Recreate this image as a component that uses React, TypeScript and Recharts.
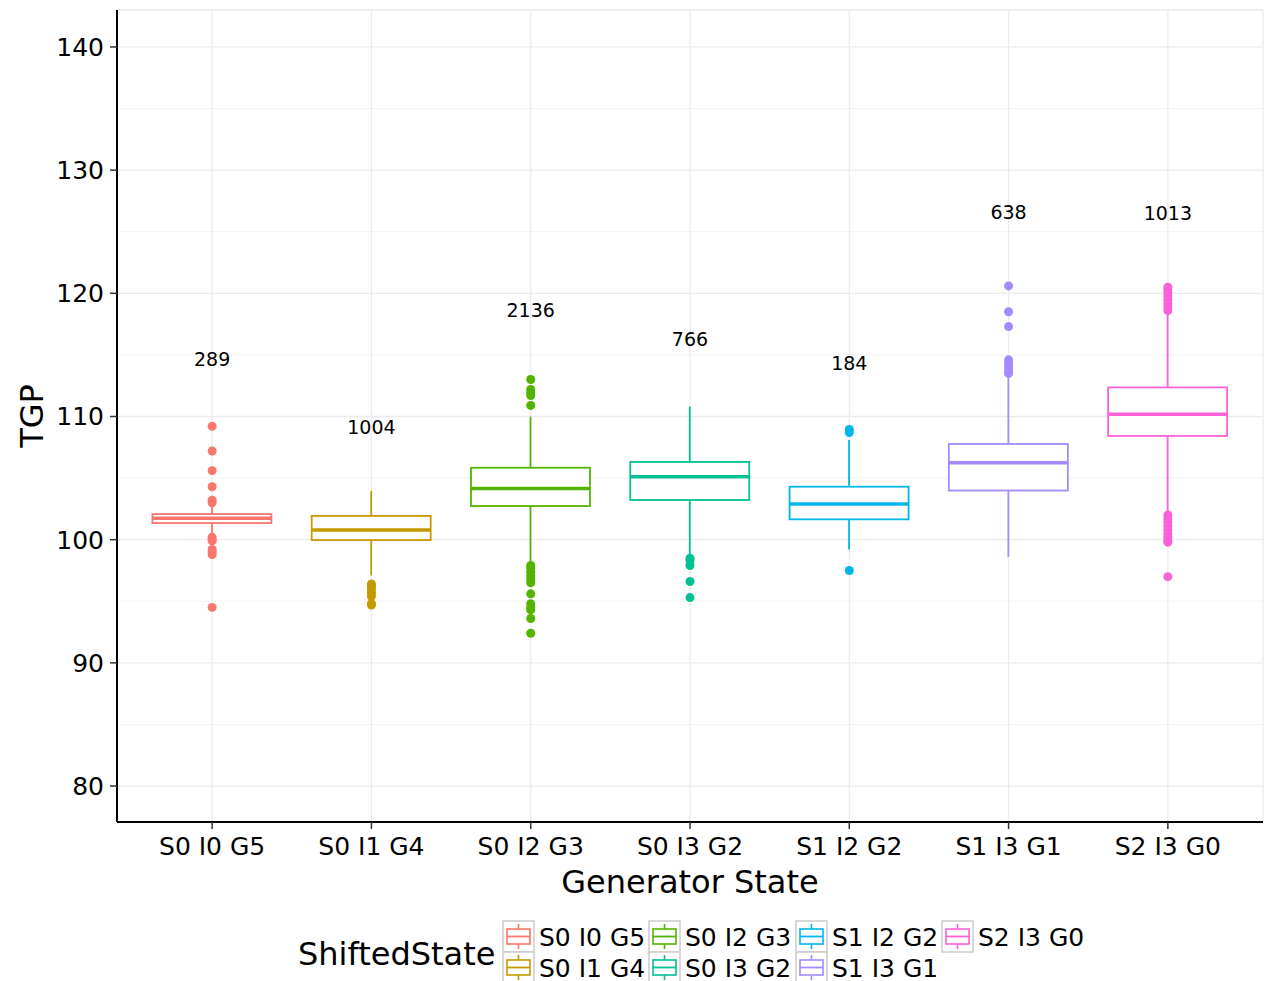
import React from 'react';
import { ComposedChart, Bar, Scatter, XAxis, YAxis, CartesianGrid } from 'recharts';

const categories = ['S0 I0 G5', 'S0 I1 G4', 'S0 I2 G3', 'S0 I3 G2', 'S1 I2 G2', 'S1 I3 G1', 'S2 I3 G0'];
const colors = ['#F8766D', '#C49A00', '#53B400', '#00C094', '#00B6EB', '#A58AFF', '#FB61D7'];
const lowerWhisker = [100.5, 97.1, 98.2, 98.8, 99.2, 98.6, 102.3];
const q1Values = [101.35, 99.97, 102.73, 103.22, 101.65, 103.99, 108.42];
const medianValues = [101.73, 100.78, 104.16, 105.11, 102.9, 106.25, 110.18];
const q3Values = [102.08, 101.93, 105.84, 106.31, 104.3, 107.77, 112.36];
const upperWhisker = [102.7, 103.96, 109.98, 110.8, 108.09, 113.37, 118.24];
const outlierValues = [
  [109.2, 107.2, 105.6, 104.3, 103.2, 103.0, 100.2, 100.0, 99.9, 99.2, 99.0, 98.8, 94.5],
  [96.4, 96.2, 96.0, 95.7, 95.4, 94.8, 94.7],
  [113.0, 112.2, 111.9, 111.7, 110.9, 97.9, 97.7, 97.4, 97.1, 96.8, 96.5, 95.6, 94.8, 94.5, 94.3, 93.6, 92.4],
  [98.5, 98.3, 97.9, 96.6, 95.3],
  [108.95, 108.7, 97.5],
  [120.6, 118.5, 117.3, 114.6, 114.3, 114.0, 113.7, 113.5],
  [120.5, 120.3, 120.1, 119.8, 119.5, 119.2, 118.9, 118.6, 102.0, 101.7, 101.4, 101.1, 100.8, 100.5, 100.2, 99.9, 99.8, 97.0],
];
const counts = [289, 1004, 2136, 766, 184, 638, 1013];
const countLabelY = [114.67, 109.15, 118.65, 116.29, 114.34, 126.6, 126.52];
const majorTicks = [80, 90, 100, 110, 120, 130, 140];
const minorTicks = [85, 95, 105, 115, 125, 135];
const yDomain: [number, number] = [77.08, 143.0];

const boxData = categories.map((name, i) => ({
  name,
  range: [lowerWhisker[i], upperWhisker[i]],
  lo: lowerWhisker[i],
  q1: q1Values[i],
  med: medianValues[i],
  q3: q3Values[i],
  hi: upperWhisker[i],
  color: colors[i],
}));

const labelData = categories.map((name, i) => ({ name, v: countLabelY[i], count: counts[i] }));

const FONT = 'DejaVu Sans, Verdana, sans-serif';

const BoxShape = (props: any) => {
  const { x, y, width, height, payload } = props;
  if (!payload) return null;
  const { lo, hi, q1, med, q3, color } = payload;
  const k = height / (hi - lo);
  const py = (v: number) => y + (hi - v) * k;
  const cx = x + width / 2;
  return (
    <g>
      <line x1={cx} x2={cx} y1={py(hi)} y2={py(q3)} stroke={color} strokeWidth={1.8} />
      <line x1={cx} x2={cx} y1={py(q1)} y2={py(lo)} stroke={color} strokeWidth={1.8} />
      <rect x={x} y={py(q3)} width={width} height={py(q1) - py(q3)} fill="#ffffff" stroke={color} strokeWidth={1.8} />
      <line x1={x} x2={x + width} y1={py(med)} y2={py(med)} stroke={color} strokeWidth={3.5} />
    </g>
  );
};

const legendCols = [
  [0, 1],
  [2, 3],
  [4, 5],
  [6],
];
const legendColX = [503, 649, 796, 942];
const legendRowY = [921, 952];

const LegendKey = ({ x, y, color }: { x: number; y: number; color: string }) => (
  <g>
    <rect x={x} y={y} width={31} height={31} fill="#ffffff" stroke="#cccccc" strokeWidth={1.5} />
    <line x1={x + 15.5} x2={x + 15.5} y1={y + 3} y2={y + 28} stroke={color} strokeWidth={1.6} />
    <rect x={x + 4} y={y + 8} width={23} height={15} fill="#ffffff" stroke={color} strokeWidth={1.6} />
    <line x1={x + 4} x2={x + 27} y1={y + 15.5} y2={y + 15.5} stroke={color} strokeWidth={1.8} />
  </g>
);

export default function App() {
  return (
    <div style={{ position: 'absolute', left: 0, top: 0, width: 1269, height: 981, overflow: 'hidden', background: '#fff' }}>
      <ComposedChart
        width={1269}
        height={981}
        data={boxData}
        margin={{ top: 10, right: 6, bottom: 89, left: 0 }}
        barCategoryGap="12.5%"
      >
        <CartesianGrid yAxisId="minor" vertical={false} stroke="#f3f3f3" strokeWidth={1} />
        <CartesianGrid stroke="#ebebeb" strokeWidth={1.3} />
        <XAxis
          dataKey="name"
          type="category"
          allowDuplicatedCategory={false}
          padding={{ left: 15.5, right: 15.5 }}
          height={70}
          tickSize={7}
          tickMargin={8}
          tick={{ fontSize: 25, fill: '#000', fontFamily: FONT }}
          tickLine={{ stroke: '#333', strokeWidth: 1.5 }}
          axisLine={{ stroke: '#000', strokeWidth: 2 }}
          interval={0}
        />
        <XAxis
          xAxisId="top"
          orientation="top"
          dataKey="name"
          type="category"
          allowDuplicatedCategory={false}
          height={0}
          tick={false}
          tickLine={false}
          axisLine={{ stroke: '#7a7a7a', strokeWidth: 1.5 }}
        />
        <YAxis
          type="number"
          domain={yDomain}
          ticks={majorTicks}
          allowDataOverflow
          width={117}
          tickSize={7}
          tickMargin={6}
          tick={{ fontSize: 25, fill: '#000', fontFamily: FONT }}
          tickLine={{ stroke: '#333', strokeWidth: 1.5 }}
          axisLine={{ stroke: '#000', strokeWidth: 2 }}
          interval={0}
        />
        <YAxis yAxisId="minor" type="number" domain={yDomain} ticks={minorTicks} allowDataOverflow hide />
        <YAxis
          yAxisId="right"
          orientation="right"
          type="number"
          domain={yDomain}
          allowDataOverflow
          width={0}
          tick={false}
          tickLine={false}
          axisLine={{ stroke: '#7a7a7a', strokeWidth: 2 }}
        />
        <Bar dataKey="range" shape={BoxShape} isAnimationActive={false} />
        {categories.map((name, i) => (
          <Scatter
            key={name}
            data={outlierValues[i].map((v) => ({ name, v }))}
            dataKey="v"
            fill={colors[i]}
            isAnimationActive={false}
            shape={(p: any) => <circle cx={p.cx} cy={p.cy} r={4.5} fill={colors[i]} />}
          />
        ))}
        <Scatter
          data={labelData}
          dataKey="v"
          isAnimationActive={false}
          shape={(p: any) => (
            <text x={p.cx} y={p.cy} textAnchor="middle" dominantBaseline="central" fontSize={19} fontFamily={FONT} fill="#000">
              {p.payload.count}
            </text>
          )}
        />
      </ComposedChart>
      <svg width={1269} height={981} style={{ position: 'absolute', left: 0, top: 0, pointerEvents: 'none' }}>
        <text x={690} y={893} textAnchor="middle" fontSize={32} fontFamily={FONT} fill="#000">
          Generator State
        </text>
        <text
          x={32}
          y={416}
          transform="rotate(-90 32 416)"
          textAnchor="middle"
          dominantBaseline="central"
          fontSize={32}
          fontFamily={FONT}
          fill="#000"
        >
          TGP
        </text>
        <text x={298} y={965} fontSize={32} fontFamily={FONT} fill="#000">
          ShiftedState
        </text>
        {legendCols.map((col, ci) =>
          col.map((idx, ri) => (
            <g key={idx}>
              <LegendKey x={legendColX[ci]} y={legendRowY[ri]} color={colors[idx]} />
              <text x={legendColX[ci] + 36} y={legendRowY[ri] + 25} fontSize={25} fontFamily={FONT} fill="#000">
                {categories[idx]}
              </text>
            </g>
          ))
        )}
      </svg>
    </div>
  );
}
